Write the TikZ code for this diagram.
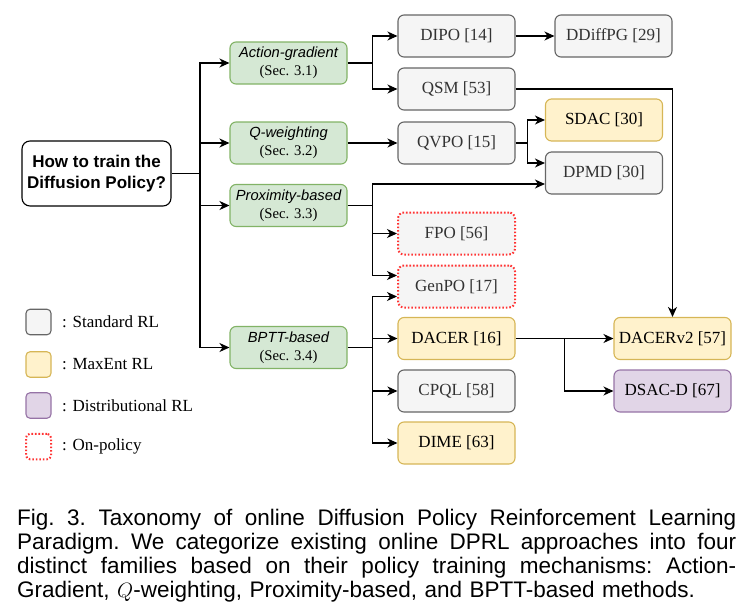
\documentclass[tikz,border=0pt]{standalone}
\usepackage{fontspec}
\setmainfont{Liberation Serif}
\setsansfont{Liberation Sans}
\usetikzlibrary{arrows.meta}
\definecolor{grayfill}{HTML}{F5F5F5}
\definecolor{graydraw}{HTML}{666666}
\definecolor{graytext}{HTML}{333333}
\definecolor{yelfill}{HTML}{FFF2CC}
\definecolor{yeldraw}{HTML}{D6B656}
\definecolor{purfill}{HTML}{E1D5E7}
\definecolor{purdraw}{HTML}{9673A6}
\definecolor{grnfill}{HTML}{D5E8D4}
\definecolor{grndraw}{HTML}{82B366}
\definecolor{onred}{HTML}{FF3333}
\tikzset{
  box/.style={rounded corners=6pt, minimum width=117pt, minimum height=42pt,
    line width=1.1pt, inner sep=0pt, font=\rmfamily\fontsize{17}{20}\selectfont},
  graybox/.style={box, draw=graydraw, fill=grayfill, text=graytext},
  yelbox/.style={box, draw=yeldraw, fill=yelfill, text=black},
  purbox/.style={box, draw=purdraw, fill=purfill, text=black},
  onbox/.style={box, draw=onred, fill=grayfill, text=graytext, line width=2pt,
    dash pattern=on 1.6pt off 1.9pt},
  grnbox/.style={box, draw=grndraw, fill=grnfill, text=black, align=center,
    font=\fontsize{14.7}{18}\selectfont},
  rootbox/.style={rounded corners=8pt, draw=black, fill=white, line width=1.1pt,
    minimum width=149pt, minimum height=65pt, inner sep=0pt, align=center,
    font=\sffamily\bfseries\fontsize{17}{21}\selectfont},
  legbox/.style={rounded corners=4pt, minimum width=25pt, minimum height=25.5pt,
    line width=1.1pt, inner sep=0pt},
  legtext/.style={anchor=west, inner sep=0pt, font=\rmfamily\fontsize{17}{20}\selectfont},
  conn/.style={line width=1.2pt, draw=black},
  arr/.style={conn, -{Stealth[length=10pt, width=9pt, inset=3pt]}},
}
\newcommand{\grntitle}[2]{{\sffamily\itshape #1}\\{\rmfamily #2}}
\newcommand{\jline}[1]{\leavevmode\hbox to 719pt{\frenchspacing\spaceskip=0.278em plus 1fil\relax #1}}
\begin{document}
\begin{tikzpicture}[x=1pt, y=-1pt]
\useasboundingbox (0,0) rectangle (756,614);
% root and families
\node[rootbox] (root) at (96.5,173.5) {How to train the\\Diffusion Policy?};
\node[grnbox] (ag) at (288.5,63) {\grntitle{Action-gradient}{(Sec. 3.1)}};
\node[grnbox] (qw) at (288.5,143) {\grntitle{Q-weighting}{(Sec. 3.2)}};
\node[grnbox] (pb) at (288.5,205.5) {\grntitle{Proximity-based}{(Sec. 3.3)}};
\node[grnbox] (bp) at (288.5,347.5) {\grntitle{BPTT-based}{(Sec. 3.4)}};
% methods
\node[graybox] (dipo) at (456.5,36) {DIPO [14]};
\node[graybox] (ddiffpg) at (613.5,36) {DDiffPG [29]};
\node[graybox] (qsm) at (456.5,89) {QSM [53]};
\node[yelbox] (sdac) at (604,120) {SDAC [30]};
\node[graybox] (qvpo) at (456.5,143) {QVPO [15]};
\node[graybox] (dpmd) at (604,173) {DPMD [30]};
\node[onbox] (fpo) at (456.5,233.5) {FPO [56]};
\node[onbox] (genpo) at (456.5,286.5) {GenPO [17]};
\node[yelbox] (dacer) at (456.5,338.5) {DACER [16]};
\node[graybox] (cpql) at (456.5,391) {CPQL [58]};
\node[yelbox] (dime) at (456.5,443) {DIME [63]};
\node[yelbox] (dacerv2) at (672.5,338.5) {DACERv2 [57]};
\node[purbox] (dsacd) at (672.5,391) {DSAC-D [67]};
% junctions
\coordinate (j0) at (200,173.5);
\coordinate (j1) at (372.5,63);
\coordinate (j2) at (527.7,143);
\coordinate (j3) at (372.5,205.5);
\coordinate (j4) at (372.5,347.5);
\coordinate (j5) at (564.3,338.5);
% root to families
\draw[conn] (root.east) -- (j0);
\draw[arr] (j0) |- (ag.west);
\draw[arr] (j0) |- (qw.west);
\draw[arr] (j0) |- (pb.west);
\draw[arr] (j0) |- (bp.west);
% action-gradient
\draw[conn] (ag.east) -- (j1);
\draw[arr] (j1) |- (dipo.west);
\draw[arr] (j1) |- (qsm.west);
\draw[arr] (dipo) -- (ddiffpg);
\draw[arr] (qsm.east) -| (dacerv2.north);
% q-weighting
\draw[arr] (qw) -- (qvpo);
\draw[conn] (qvpo.east) -- (j2);
\draw[arr] (j2) |- (sdac.west);
\draw[arr] (j2) |- ([yshift=10pt]dpmd.west);
% proximity
\draw[conn] (pb.east) -- (j3);
\draw[arr] (j3) |- ([yshift=-11pt]dpmd.west);
\draw[arr] (j3) |- (fpo.west);
\draw[arr] (j3) |- ([yshift=11pt]genpo.west);
% bptt
\draw[conn] (bp.east) -- (j4);
\draw[arr] (j4) |- ([yshift=-10pt]genpo.west);
\draw[arr] (j4) |- (dacer.west);
\draw[arr] (j4) |- (cpql.west);
\draw[arr] (j4) |- (dime.west);
% dacer
\draw[arr] (dacer) -- (dacerv2);
\draw[arr] (j5) |- (dsacd.west);
% legend
\node[legbox, draw=graydraw, fill=grayfill] (l1) at (38.5,322) {};
\node[legbox, draw=yeldraw, fill=yelfill] (l2) at (38.5,364.5) {};
\node[legbox, draw=purdraw, fill=purfill] (l3) at (38.5,405.5) {};
\node[legbox, draw=onred, fill=white, line width=2pt, dash pattern=on 1.6pt off 1.9pt] (l4) at (38.5,446.5) {};
\node[legtext] (t1) at (62,322) {: Standard RL};
\node[legtext] (t2) at (62,364.5) {: MaxEnt RL};
\node[legtext] (t3) at (62,405.5) {: Distributional RL};
\node[legtext] (t4) at (62,446.5) {: On-policy};
% caption
\node[anchor=north west, inner sep=0pt, text width=719pt, align=left,
  font=\sffamily\fontsize{22.5}{24}\selectfont] (cap) at (17,508.5)
  {\jline{Fig. 3. Taxonomy of online Diffusion Policy Reinforcement Learning}\\
   \jline{Paradigm. We categorize existing online DPRL approaches into four}\\
   \jline{distinct families based on their policy training mechanisms: Action-}\\
   Gradient, $Q$-weighting, Proximity-based, and BPTT-based methods.};
\end{tikzpicture}
\end{document}
